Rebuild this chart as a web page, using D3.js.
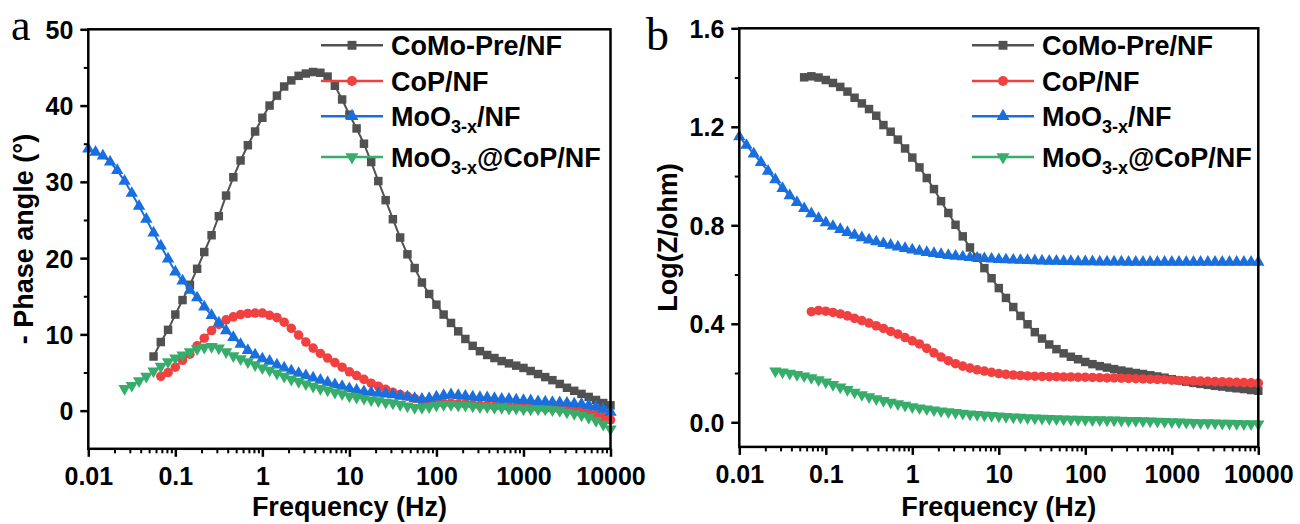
<!DOCTYPE html>
<html>
<head>
<meta charset="utf-8">
<script src="https://cdn.jsdelivr.net/npm/d3@7"></script>
<style>
  body { margin: 0; background: #fff; }
  svg { display: block; }
</style>
</head>
<body>
<svg id="chart" width="1300" height="524"></svg>
<script>
// Frequencies (Hz), 12 points per decade, 0.01 .. 10000
const freqs = [
  0.01, 0.0121, 0.0147, 0.0178, 0.0215, 0.0261, 0.0316, 0.0383, 0.0464, 0.0562, 0.0681, 0.0825,
  0.1, 0.121, 0.147, 0.178, 0.215, 0.261, 0.316, 0.383, 0.464, 0.562, 0.681, 0.825,
  1, 1.21, 1.47, 1.78, 2.15, 2.61, 3.16, 3.83, 4.64, 5.62, 6.81, 8.25,
  10, 12.1, 14.7, 17.8, 21.5, 26.1, 31.6, 38.3, 46.4, 56.2, 68.1, 82.5,
  100, 121, 147, 178, 215, 261, 316, 383, 464, 562, 681, 825,
  1000, 1210, 1470, 1780, 2150, 2610, 3160, 3830, 4640, 5620, 6810, 8250,
  10000
];

const seriesNames = ['CoMo-Pre/NF', 'CoP/NF', 'MoO3-x/NF', 'MoO3-x@CoP/NF'];
// legend text split into [text, isSubscript]
const legendParts = [
  [['CoMo-Pre/NF', false]],
  [['CoP/NF', false]],
  [['MoO', false], ['3-x', true], ['/NF', false]],
  [['MoO', false], ['3-x', true], ['@CoP/NF', false]]
];

// (a) - Phase angle (deg)
const phaseCoMoPre = [
  null, null, null, null, null, null, null, null, null, 7.1, 9.0, 10.6,
  12.6, 14.5, 16.5, 18.6, 20.8, 23.0, 25.5, 28.2, 30.6, 32.8, 34.8, 36.6,
  38.4, 40.0, 41.3, 42.5, 43.3, 43.9, 44.2, 44.4, 44.3, 43.8, 42.6, 40.8,
  38.8, 37.0, 35.0, 32.6, 30.1, 27.6, 25.1, 22.7, 20.5, 18.7, 16.8, 15.3,
  13.9, 12.6, 11.5, 10.4, 9.4, 8.5, 7.8, 7.3, 6.9, 6.5, 6.2, 5.9,
  5.6, 5.2, 4.8, 4.4, 4.0, 3.5, 3.0, 2.6, 2.2, 1.8, 1.4, 1.0,
  0.7
];
const phaseCoP = [
  null, null, null, null, null, null, null, null, null, null, 4.5, 5.0,
  5.7, 6.6, 7.4, 8.5, 9.5, 10.5, 11.3, 11.9, 12.3, 12.6, 12.75, 12.8,
  12.8, 12.5, 12.2, 11.6, 10.8, 9.9, 9.0, 8.2, 7.5, 6.9, 6.3, 5.7,
  5.1, 4.6, 4.1, 3.6, 3.2, 2.8, 2.4, 2.1, 1.9, 1.6, 1.3, 1.1,
  1.0, 1.0, 1.0, 0.9, 0.9, 0.8, 0.7, 0.7, 0.6, 0.6, 0.5, 0.5,
  0.4, 0.4, 0.4, 0.3, 0.3, 0.2, 0.1, 0.0, -0.1, -0.3, -0.5, -0.8,
  -1.2
];
const phaseMoO = [
  34.3, 33.9, 33.4, 32.6, 31.5, 30.1, 28.5, 26.8, 25.1, 23.3, 21.6, 19.9,
  18.2, 17.0, 15.8, 14.8, 13.6, 12.5, 11.5, 10.5, 9.6, 8.7, 7.9, 7.3,
  6.8, 6.5, 6.0, 5.6, 5.2, 4.9, 4.6, 4.3, 4.0, 3.7, 3.4, 3.2,
  2.9, 2.7, 2.5, 2.4, 2.3, 2.2, 2.1, 1.9, 1.8, 1.6, 1.5, 1.6,
  1.8, 2.0, 2.1, 2.0, 1.9, 1.8, 1.75, 1.7, 1.6, 1.5, 1.5, 1.4,
  1.35, 1.3, 1.2, 1.15, 1.1, 1.05, 1.0, 0.9, 0.85, 0.7, 0.5, 0.2,
  -0.2
];
const phaseMoOCoP = [
  null, null, null, null, null, 2.9, 3.3, 3.9, 4.5, 5.2, 5.8, 6.4,
  6.9, 7.3, 7.7, 8.1, 8.3, 8.4, 8.2, 7.7, 7.2, 6.8, 6.4, 6.0,
  5.6, 5.3, 4.9, 4.5, 4.1, 3.8, 3.5, 3.2, 2.9, 2.7, 2.4, 2.2,
  1.9, 1.75, 1.6, 1.4, 1.3, 1.1, 1.0, 0.8, 0.6, 0.4, 0.4, 0.5,
  0.7, 0.8, 0.8, 0.7, 0.7, 0.6, 0.5, 0.5, 0.4, 0.4, 0.3, 0.3,
  0.2, 0.2, 0.2, 0.2, 0.1, 0.0, -0.2, -0.4, -0.6, -0.9, -1.3, -1.8,
  -2.4
];

// (b) Log(Z/ohm)
const logZCoMoPre = [
  null, null, null, null, null, null, null, null, null, 1.401, 1.405, 1.400,
  1.390, 1.378, 1.362, 1.343, 1.318, 1.295, 1.272, 1.245, 1.207, 1.180, 1.148, 1.112,
  1.075, 1.035, 0.992, 0.947, 0.898, 0.850, 0.802, 0.755, 0.710, 0.668, 0.626, 0.585,
  0.545, 0.505, 0.468, 0.432, 0.398, 0.366, 0.340, 0.316, 0.297, 0.280, 0.266, 0.256,
  0.245, 0.236, 0.228, 0.222, 0.216, 0.210, 0.205, 0.200, 0.196, 0.191, 0.186, 0.181,
  0.175, 0.170, 0.165, 0.160, 0.156, 0.152, 0.148, 0.145, 0.141, 0.138, 0.135, 0.131,
  0.128
];
const logZCoP = [
  null, null, null, null, null, null, null, null, null, null, 0.449, 0.454,
  0.451, 0.446, 0.440, 0.432, 0.422, 0.413, 0.403, 0.392, 0.381, 0.369, 0.358, 0.344,
  0.331, 0.318, 0.300, 0.282, 0.265, 0.250, 0.238, 0.228, 0.220, 0.213, 0.208, 0.203,
  0.198, 0.195, 0.192, 0.190, 0.188, 0.187, 0.186, 0.185, 0.185, 0.184, 0.184, 0.183,
  0.183, 0.182, 0.181, 0.180, 0.180, 0.179, 0.178, 0.177, 0.176, 0.175, 0.174, 0.173,
  0.171, 0.170, 0.169, 0.168, 0.167, 0.166, 0.165, 0.164, 0.163, 0.162, 0.161, 0.160,
  0.159
];
const logZMoO = [
  1.160, 1.125, 1.090, 1.055, 1.020, 0.985, 0.950, 0.920, 0.893, 0.868, 0.847, 0.828,
  0.811, 0.796, 0.783, 0.771, 0.760, 0.750, 0.741, 0.733, 0.726, 0.719, 0.712, 0.706,
  0.700, 0.695, 0.690, 0.686, 0.682, 0.678, 0.675, 0.672, 0.669, 0.667, 0.665, 0.663,
  0.661, 0.660, 0.659, 0.658, 0.657, 0.656, 0.655, 0.654, 0.654, 0.653, 0.653, 0.652,
  0.652, 0.652, 0.651, 0.651, 0.651, 0.651, 0.650, 0.650, 0.650, 0.650, 0.650, 0.650,
  0.650, 0.650, 0.650, 0.650, 0.650, 0.650, 0.650, 0.650, 0.650, 0.650, 0.650, 0.650,
  0.650
];
const logZMoOCoP = [
  null, null, null, null, null, 0.208, 0.204, 0.199, 0.194, 0.188, 0.181, 0.172,
  0.163, 0.153, 0.143, 0.133, 0.122, 0.112, 0.103, 0.095, 0.088, 0.081, 0.075, 0.069,
  0.063, 0.058, 0.054, 0.050, 0.046, 0.042, 0.039, 0.036, 0.033, 0.031, 0.029, 0.027,
  0.025, 0.023, 0.021, 0.020, 0.018, 0.017, 0.016, 0.015, 0.014, 0.013, 0.012, 0.012,
  0.011, 0.010, 0.010, 0.009, 0.009, 0.008, 0.007, 0.007, 0.006, 0.005, 0.004, 0.003,
  0.002, 0.001, 0.000, -0.001, -0.002, -0.002, -0.003, -0.004, -0.004, -0.005, -0.006, -0.006,
  -0.007
];

const freqTicks = [0.01, 0.1, 1, 10, 100, 1000, 10000];
const phaseTicks = [0, 10, 20, 30, 40, 50];
const phaseMinor = [5, 15, 25, 35, 45];
const logZTicks = [0.0, 0.4, 0.8, 1.2, 1.6];
const logZMinor = [0.2, 0.6, 1.0, 1.4];

const FONT = '"Liberation Sans", Arial, Helvetica, sans-serif';
const colors = ['#515151', '#F14040', '#1A6FDF', '#37AD6B'];
const symbolTypes = [d3.symbolSquare, d3.symbolCircle, d3.symbolTriangle, d3.symbolTriangle];
const symbolSizes = [72, 72, 66, 66];
const symbolRot = [0, 0, 0, 180];

const panels = [
  {
    label: 'a', labelX: 11, labelY: 40, labelSize: 44,
    left: 88.3, right: 610.5, top: 29.3, bottom: 448.8,
    domain: [-5, 50], ticks: phaseTicks, minor: phaseMinor, fmt: d3.format('d'),
    title: '- Phase angle (°)', titleX: 33,
    series: [phaseCoMoPre, phaseCoP, phaseMoO, phaseMoOCoP]
  },
  {
    label: 'b', labelX: 646, labelY: 50, labelSize: 46,
    left: 739.3, right: 1258.3, top: 28.3, bottom: 446.9,
    domain: [-0.1, 1.6], ticks: logZTicks, minor: logZMinor, fmt: d3.format('.1f'),
    title: 'Log(Z/ohm)', titleX: 677,
    series: [logZCoMoPre, logZCoP, logZMoO, logZMoOCoP]
  }
];

const svg = d3.select('#chart');

panels.forEach(p => {
  const x = d3.scaleLog().domain([0.01, 10000]).range([p.left, p.right]);
  const y = d3.scaleLinear().domain(p.domain).range([p.bottom, p.top]);
  const g = svg.append('g');

  // series: line then markers
  p.series.forEach((vals, si) => {
    const pts = vals
      .map((v, i) => ({ f: freqs[i], v }))
      .filter(d => d.v !== null);

    g.append('path')
      .datum(pts)
      .attr('fill', 'none')
      .attr('stroke', colors[si])
      .attr('stroke-width', 2)
      .attr('d', d3.line().x(d => x(d.f)).y(d => y(d.v)));

    const sym = d3.symbol().type(symbolTypes[si]).size(symbolSizes[si]);
    g.append('g')
      .selectAll('path')
      .data(pts)
      .join('path')
      .attr('d', sym)
      .attr('fill', colors[si])
      .attr('transform', d => `translate(${x(d.f)},${y(d.v)}) rotate(${symbolRot[si]})`);
  });

  // bottom axis, major + minor ticks
  const minorFreq = x.ticks(100).filter(t => !freqTicks.some(m => Math.abs(m - t) / m < 1e-6));

  g.append('g')
    .attr('transform', `translate(0,${p.bottom})`)
    .call(d3.axisBottom(x).tickValues(minorFreq).tickSize(4.5).tickFormat(''))
    .call(a => a.select('.domain').remove())
    .call(a => a.selectAll('line').attr('stroke', '#000').attr('stroke-width', 2));

  g.append('g')
    .attr('transform', `translate(0,${p.bottom})`)
    .call(d3.axisBottom(x).tickValues(freqTicks).tickSize(8).tickFormat(d3.format('~g')))
    .call(a => a.select('.domain').remove())
    .call(a => a.selectAll('line').attr('stroke', '#000').attr('stroke-width', 2.5))
    .call(a => a.selectAll('text')
      .attr('dy', null)
      .attr('y', 36)
      .attr('fill', '#000')
      .style('font-family', FONT)
      .style('font-weight', 'bold')
      .style('font-size', '25px'));

  // left axis
  g.append('g')
    .attr('transform', `translate(${p.left},0)`)
    .call(d3.axisLeft(y).tickValues(p.minor).tickSize(4.5).tickFormat(''))
    .call(a => a.select('.domain').remove())
    .call(a => a.selectAll('line').attr('stroke', '#000').attr('stroke-width', 2));

  g.append('g')
    .attr('transform', `translate(${p.left},0)`)
    .call(d3.axisLeft(y).tickValues(p.ticks).tickSize(8).tickFormat(p.fmt))
    .call(a => a.select('.domain').remove())
    .call(a => a.selectAll('line').attr('stroke', '#000').attr('stroke-width', 2.5))
    .call(a => a.selectAll('text')
      .attr('x', -15)
      .attr('dy', '0.36em')
      .attr('fill', '#000')
      .style('font-family', FONT)
      .style('font-weight', 'bold')
      .style('font-size', '25px'));

  // frame
  g.append('rect')
    .attr('x', p.left)
    .attr('y', p.top)
    .attr('width', p.right - p.left)
    .attr('height', p.bottom - p.top)
    .attr('fill', 'none')
    .attr('stroke', '#000')
    .attr('stroke-width', 2.5);

  // axis titles
  g.append('text')
    .attr('x', (p.left + p.right) / 2)
    .attr('y', 516)
    .attr('text-anchor', 'middle')
    .style('font-family', FONT)
    .style('font-weight', 'bold')
    .style('font-size', '27px')
    .text('Frequency (Hz)');

  g.append('text')
    .attr('transform', `translate(${p.titleX},${(p.top + p.bottom) / 2}) rotate(-90)`)
    .attr('text-anchor', 'middle')
    .style('font-family', FONT)
    .style('font-weight', 'bold')
    .style('font-size', '27px')
    .text(p.title);

  // panel letter
  g.append('text')
    .attr('x', p.labelX)
    .attr('y', p.labelY)
    .style('font-family', '"Liberation Serif", "Times New Roman", serif')
    .style('font-size', `${p.labelSize}px`)
    .text(p.label);

  // legend
  const rowY = [55, 90.7, 126, 166.7];
  const lg = g.append('g').attr('transform', `translate(${p.left},0)`);
  seriesNames.forEach((name, si) => {
    const ly = rowY[si] - 9.7;
    lg.append('line')
      .attr('x1', 232.7).attr('x2', 294.7)
      .attr('y1', ly).attr('y2', ly)
      .attr('stroke', colors[si])
      .attr('stroke-width', 2.5);
    lg.append('path')
      .attr('d', d3.symbol().type(symbolTypes[si]).size(symbolSizes[si] * 1.1)())
      .attr('fill', colors[si])
      .attr('transform', `translate(263.7,${ly}) rotate(${symbolRot[si]})`);

    const t = lg.append('text')
      .attr('x', 302.7)
      .attr('y', rowY[si])
      .style('font-family', FONT)
      .style('font-weight', 'bold')
      .style('font-size', '27px');
    let shifted = false;
    legendParts[si].forEach(([str, sub]) => {
      const ts = t.append('tspan').text(str);
      if (sub) {
        ts.attr('dy', 7).style('font-size', '18px');
        shifted = true;
      } else if (shifted) {
        ts.attr('dy', -7);
        shifted = false;
      }
    });
  });
});
</script>
</body>
</html>
